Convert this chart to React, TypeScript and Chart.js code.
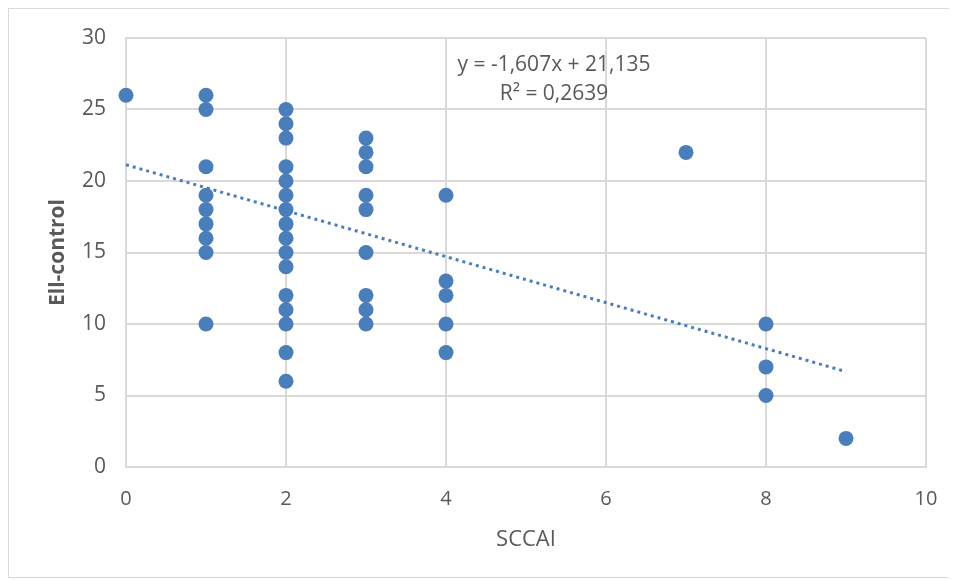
import React, { useEffect, useRef } from "react";
import { Chart, registerables } from "chart.js";

Chart.register(...registerables);

const xValues: number[] = [
  0,
  1, 1, 1, 1, 1, 1, 1, 1, 1,
  2, 2, 2, 2, 2, 2, 2, 2, 2, 2, 2, 2, 2, 2, 2, 2,
  3, 3, 3, 3, 3, 3, 3, 3, 3,
  4, 4, 4, 4, 4,
  7,
  8, 8, 8,
  9,
];
const yValues: number[] = [
  26,
  26, 25, 21, 19, 18, 17, 16, 15, 10,
  25, 24, 23, 21, 20, 19, 18, 17, 16, 15, 14, 12, 11, 10, 8, 6,
  23, 22, 21, 19, 18, 15, 12, 11, 10,
  19, 13, 12, 10, 8,
  22,
  10, 7, 5,
  2,
];
const trendSlope = -1.607;
const trendIntercept = 21.135;
const trendRange: number[] = [0, 9];
const equationLines: string[] = ["y = -1,607x + 21,135", "R² = 0,2639"];
const xTitle = "SCCAI";
const yTitle = "Ell-control";

const BLUE = "#4a7ebb";
const GRID = "#d9d9d9";
const TEXT = "#595959";
const FONT = "'Open Sans', 'Liberation Sans', sans-serif";

export default function App() {
  const ref = useRef<HTMLCanvasElement | null>(null);
  useEffect(() => {
    if (!ref.current) return;
    const points = xValues.map((x, i) => ({ x, y: yValues[i] }));
    const trend = trendRange.map((x) => ({ x, y: trendIntercept + trendSlope * x }));
    const annotation = {
      id: "eqAnnotation",
      afterDraw(chart: any) {
        const { ctx, scales } = chart;
        ctx.save();
        ctx.fillStyle = TEXT;
        ctx.font = `21px ${FONT}`;
        ctx.textAlign = "center";
        ctx.textBaseline = "middle";
        const cx = scales.x.getPixelForValue(5.35);
        ctx.fillText(equationLines[0], cx, scales.y.getPixelForValue(28.1));
        ctx.fillText(equationLines[1], cx, scales.y.getPixelForValue(26.05));
        ctx.restore();
      },
    };
    const chart = new Chart(ref.current, {
      type: "scatter",
      data: {
        datasets: [
          {
            data: trend,
            type: "line",
            borderColor: BLUE,
            borderWidth: 3,
            borderDash: [3, 4],
            pointRadius: 0,
            fill: false,
            clip: false,
          } as any,
          {
            data: points,
            backgroundColor: BLUE,
            borderColor: BLUE,
            pointRadius: 7.5,
            pointBorderWidth: 0,
            clip: false,
          },
        ],
      },
      plugins: [annotation],
      options: {
        responsive: false,
        animation: false,
        layout: { autoPadding: false, padding: { top: 29, right: 23, left: 0, bottom: 0 } },
        plugins: { legend: { display: false }, tooltip: { enabled: false } },
        scales: {
          x: {
            type: "linear",
            min: 0,
            max: 10,
            ticks: { stepSize: 2, color: TEXT, font: { family: FONT, size: 20 }, padding: 20 },
            grid: { color: GRID, lineWidth: 2, drawTicks: false },
            border: { color: GRID, width: 2 },
            title: {
              display: true,
              text: xTitle,
              color: TEXT,
              font: { family: FONT, size: 22 },
              padding: { top: 0, bottom: 24 },
            },
            afterFit(scale: any) {
              scale.height = 110;
              scale.paddingLeft = 0;
              scale.paddingRight = 0;
            },
          },
          y: {
            type: "linear",
            min: 0,
            max: 30,
            ticks: { stepSize: 5, color: TEXT, font: { family: FONT, size: 21 }, padding: 20 },
            grid: { color: GRID, lineWidth: 2, drawTicks: false },
            border: { color: GRID, width: 2 },
            title: {
              display: true,
              text: yTitle,
              color: TEXT,
              font: { family: FONT, size: 21, weight: "bold" },
              padding: { top: 36, bottom: 0 },
            },
            afterFit(scale: any) {
              scale.width = 117;
              scale.paddingTop = 0;
              scale.paddingBottom = 0;
            },
          },
        },
      },
    });
    return () => chart.destroy();
  }, []);
  return (
    <div style={{ width: 940, height: 568, border: "1px solid #d9d9d9", background: "#fff" }}>
      <canvas ref={ref} width={940} height={568} style={{ display: "block" }} />
    </div>
  );
}
